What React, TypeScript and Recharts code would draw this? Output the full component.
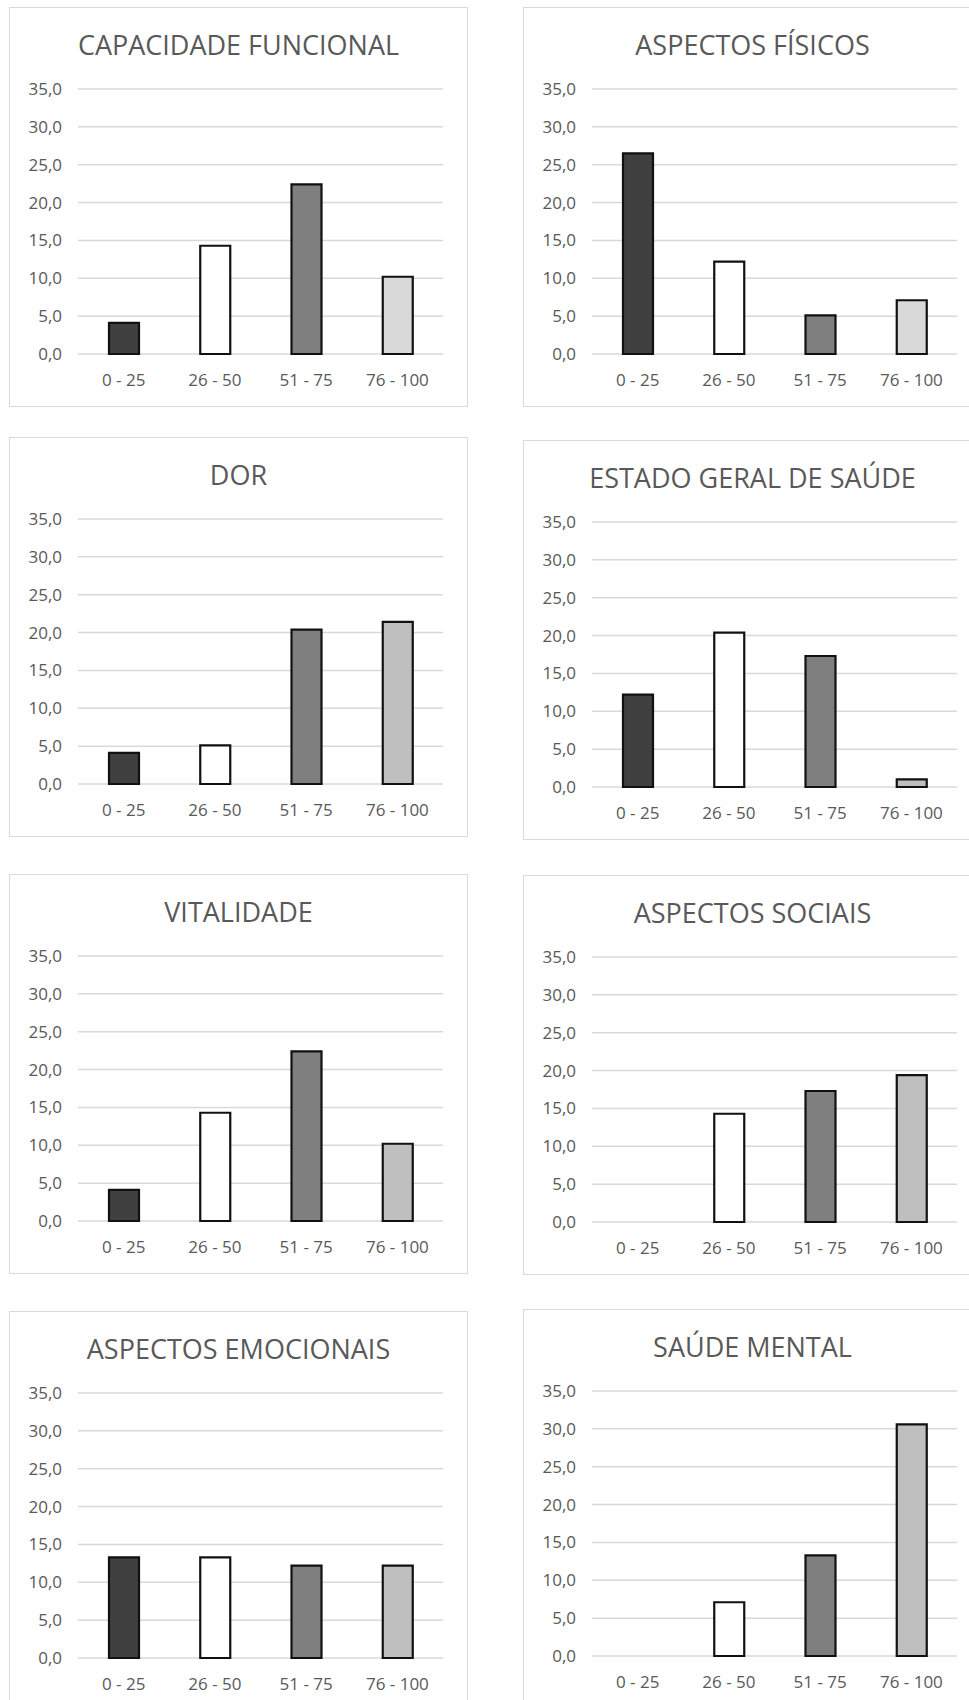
import { BarChart, Bar, XAxis, YAxis, CartesianGrid, Cell } from 'recharts';

const categories = ['0 - 25', '26 - 50', '51 - 75', '76 - 100'];
const yTicks = [0, 5, 10, 15, 20, 25, 30, 35];

const capacidadeFuncional = [4.1, 14.3, 22.4, 10.2];
const aspectosFisicos = [26.5, 12.2, 5.1, 7.1];
const dor = [4.1, 5.1, 20.4, 21.4];
const estadoGeral = [12.2, 20.4, 17.3, 1.0];
const vitalidade = [4.1, 14.3, 22.4, 10.2];
const aspectosSociais = [0, 14.3, 17.3, 19.4];
const aspectosEmocionais = [13.3, 13.3, 12.2, 12.2];
const saudeMental = [0, 7.1, 13.3, 30.6];

const FONT = '"Open Sans", "Liberation Sans", sans-serif';
const TEXT = '#595959';
const COLORS = ['#404040', '#ffffff', '#7f7f7f', '#bfbfbf'];
const COLORS_LIGHT = ['#404040', '#ffffff', '#7f7f7f', '#d9d9d9'];

interface PanelProps {
  title: string;
  values: number[];
  left: number;
  top: number;
  colors?: string[];
}

function Panel({ title, values, left, top, colors = COLORS }: PanelProps) {
  const data = categories.map((c, i) => ({ cat: c, v: values[i] }));
  return (
    <div
      style={{
        position: 'absolute', left, top, width: 459, height: 400,
        border: '1px solid #d9d9d9', boxSizing: 'border-box', background: '#fff',
      }}
    >
      <div
        style={{
          position: 'absolute', left: 0, right: 0, top: 17, textAlign: 'center',
          fontFamily: FONT, fontSize: 27, color: TEXT, lineHeight: '40px',
          whiteSpace: 'nowrap',
        }}
      >
        {title}
      </div>
      <div style={{ position: 'absolute', left: 0, top: 0 }}>
        <BarChart width={457} height={398} data={data}
          margin={{ top: 81, right: 24, left: 18, bottom: 22 }}>
          <CartesianGrid vertical={false} stroke="#d9d9d9" strokeWidth={1.5} />
          <XAxis dataKey="cat" axisLine={false} tickLine={false} height={30} tickMargin={14}
            tick={{ fill: TEXT, fontSize: 17, fontFamily: FONT }} interval={0} />
          <YAxis domain={[0, 35]} ticks={yTicks} axisLine={false} tickLine={false} width={50}
            tickMargin={10} tick={{ fill: TEXT, fontSize: 17, fontFamily: FONT }}
            tickFormatter={(v: number) => v.toFixed(1).replace('.', ',')} />
          <Bar dataKey="v" barSize={30} stroke="#111111" strokeWidth={2.2} isAnimationActive={false}>
            {data.map((d, i) => (
              <Cell key={i} fill={colors[i]} />
            ))}
          </Bar>
        </BarChart>
      </div>
    </div>
  );
}

export default function App() {
  return (
    <div style={{ position: 'absolute', left: 0, top: 0, width: 969, height: 1700, overflow: 'hidden', background: '#fff' }}>
      <Panel title="CAPACIDADE FUNCIONAL" values={capacidadeFuncional} left={9} top={7} colors={COLORS_LIGHT} />
      <Panel title="ASPECTOS FÍSICOS" values={aspectosFisicos} left={523} top={7} colors={COLORS_LIGHT} />
      <Panel title="DOR" values={dor} left={9} top={437} />
      <Panel title="ESTADO GERAL DE SAÚDE" values={estadoGeral} left={523} top={440} />
      <Panel title="VITALIDADE" values={vitalidade} left={9} top={874} />
      <Panel title="ASPECTOS SOCIAIS" values={aspectosSociais} left={523} top={875} />
      <Panel title="ASPECTOS EMOCIONAIS" values={aspectosEmocionais} left={9} top={1311} />
      <Panel title="SAÚDE MENTAL" values={saudeMental} left={523} top={1309} />
    </div>
  );
}
